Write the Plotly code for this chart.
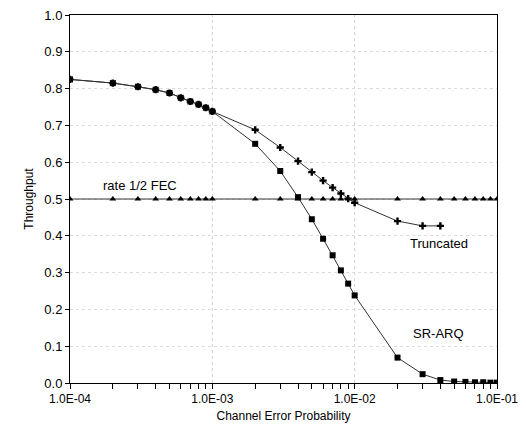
import plotly.graph_objects as go

x_vals = [1e-4, 2e-4, 3e-4, 4e-4, 5e-4, 6e-4, 7e-4, 8e-4, 9e-4,
          1e-3, 2e-3, 3e-3, 4e-3, 5e-3, 6e-3, 7e-3, 8e-3, 9e-3,
          1e-2, 2e-2, 3e-2, 4e-2, 5e-2, 6e-2, 7e-2, 8e-2, 9e-2, 1e-1]

sr_arq = [0.825, 0.815, 0.805, 0.797, 0.788, 0.775, 0.765, 0.757, 0.748,
          0.738, 0.650, 0.576, 0.505, 0.445, 0.392, 0.347, 0.306, 0.270,
          0.238, 0.069, 0.024, 0.008, 0.004, 0.003, 0.002, 0.002, 0.001, 0.001]

trunc_x = x_vals[:22]
truncated = [0.825, 0.815, 0.805, 0.797, 0.788, 0.775, 0.765, 0.757, 0.748,
             0.738, 0.688, 0.640, 0.603, 0.573, 0.550, 0.531, 0.515, 0.501,
             0.490, 0.440, 0.427, 0.427]

fec = [0.5] * len(x_vals)

x_tickvals = [1e-4, 1e-3, 1e-2, 1e-1]
x_ticktext = ["1.0E-04", "1.0E-03", "1.0E-02", "1.0E-01"]

FONT = "Liberation Sans, Arial, Helvetica, sans-serif"

fig = go.Figure()
fig.add_trace(go.Scatter(x=x_vals, y=fec, mode="lines+markers",
                         line=dict(color="#333", width=1),
                         marker=dict(symbol="triangle-up", size=6, color="black"),
                         name="rate 1/2 FEC"))
fig.add_trace(go.Scatter(x=trunc_x, y=truncated, mode="lines+markers",
                         line=dict(color="#333", width=1),
                         marker=dict(symbol="cross", size=6, color="black"),
                         name="Truncated"))
fig.add_trace(go.Scatter(x=x_vals, y=sr_arq, mode="lines+markers",
                         line=dict(color="#333", width=1),
                         marker=dict(symbol="square", size=6, color="black"),
                         name="SR-ARQ"))

fig.add_annotation(x=-3.51, y=0.536, text="rate 1/2 FEC", showarrow=False,
                   font=dict(size=13, color="black", family=FONT))
fig.add_annotation(x=-1.41, y=0.378, text="Truncated", showarrow=False,
                   font=dict(size=13, color="black", family=FONT))
fig.add_annotation(x=-1.41, y=0.135, text="SR-ARQ", showarrow=False,
                   font=dict(size=13, color="black", family=FONT))

fig.update_layout(
    width=526, height=431,
    margin=dict(l=70, r=28, t=8, b=48),
    paper_bgcolor="white", plot_bgcolor="white",
    showlegend=False,
    font=dict(family=FONT, size=13, color="black"),
    xaxis=dict(type="log", range=[-4, -1],
               tickmode="array", tickvals=x_vals, ticktext=[
                   x_ticktext[x_tickvals.index(v)] if v in x_tickvals else "" for v in x_vals],
               ticks="outside", ticklen=5, tickcolor="black", tickwidth=1,
               showline=True, linecolor="black", linewidth=1, mirror=True,
               showgrid=False,
               title=dict(text="Channel Error Probability", font=dict(size=12, family=FONT), standoff=6),
               tickfont=dict(size=12, family=FONT)),
    yaxis=dict(range=[0, 1.0], dtick=0.1, tickformat=".1f",
               ticks="outside", ticklen=4, tickcolor="black",
               showline=True, linecolor="black", linewidth=1, mirror=True,
               showgrid=True, gridcolor="#dcdcdc", griddash="dot", gridwidth=1,
               zeroline=False,
               title=dict(text="Throughput", font=dict(size=12, family=FONT), standoff=8),
               tickfont=dict(size=13, family=FONT)),
)
# dotted vertical gridlines at the decade positions only
for v in x_tickvals[1:-1]:
    fig.add_vline(x=v, line=dict(color="#d0d0d0", width=1, dash="dot"), layer="below")

fig.write_html("out.html", config={"displayModeBar": False},
               post_script="document.body.style.margin='0';document.body.style.overflow='hidden';")
